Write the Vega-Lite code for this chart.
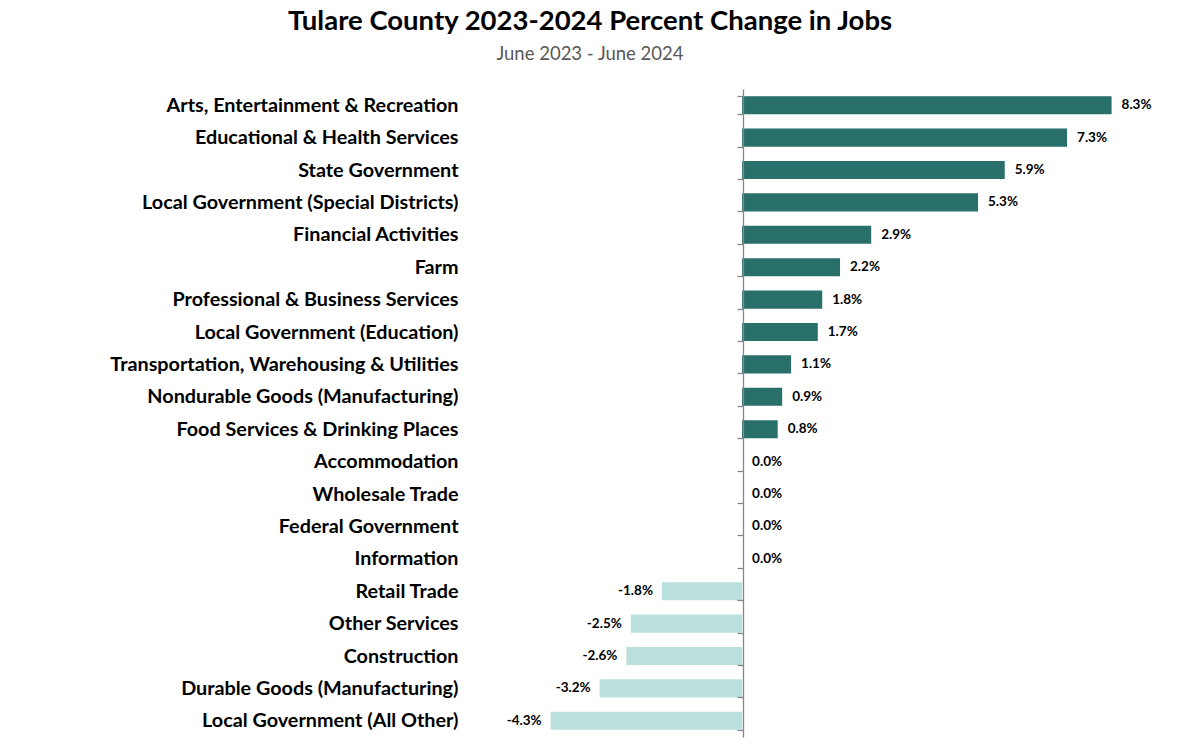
{
  "$schema": "https://vega.github.io/schema/vega-lite/v6.json",
  "width": 690,
  "height": 648,
  "autosize": {"type": "none"},
  "padding": {"left": 475, "top": 89, "right": 19, "bottom": 15},
  "title": {
    "text": "Tulare County 2023-2024 Percent Change in Jobs",
    "subtitle": "June 2023 - June 2024",
    "anchor": "middle",
    "frame": "group",
    "dx": -230,
    "offset": 16,
    "font": "Lato",
    "fontSize": 27.5,
    "fontWeight": "bold",
    "color": "#000000",
    "subtitleFont": "Lato",
    "subtitleFontSize": 18.5,
    "subtitleColor": "#595959",
    "subtitlePadding": 9
  },
  "config": {
    "view": {"stroke": null},
    "locale": {"number": {"decimal": ".", "thousands": ",", "grouping": [3], "currency": ["$", ""], "minus": "-"}}
  },
  "data": {
    "values": [
      {"industry": "Arts, Entertainment & Recreation", "change": 0.083},
      {"industry": "Educational & Health Services", "change": 0.073},
      {"industry": "State Government", "change": 0.059},
      {"industry": "Local Government (Special Districts)", "change": 0.053},
      {"industry": "Financial Activities", "change": 0.029},
      {"industry": "Farm", "change": 0.022},
      {"industry": "Professional & Business Services", "change": 0.018},
      {"industry": "Local Government (Education)", "change": 0.017},
      {"industry": "Transportation, Warehousing & Utilities", "change": 0.011},
      {"industry": "Nondurable Goods (Manufacturing)", "change": 0.009},
      {"industry": "Food Services & Drinking Places", "change": 0.008},
      {"industry": "Accommodation", "change": 0.0},
      {"industry": "Wholesale Trade", "change": 0.0},
      {"industry": "Federal Government", "change": 0.0},
      {"industry": "Information", "change": 0.0},
      {"industry": "Retail Trade", "change": -0.018},
      {"industry": "Other Services", "change": -0.025},
      {"industry": "Construction", "change": -0.026},
      {"industry": "Durable Goods (Manufacturing)", "change": -0.032},
      {"industry": "Local Government (All Other)", "change": -0.043}
    ]
  },
  "encoding": {
    "y": {
      "field": "industry",
      "type": "nominal",
      "sort": null,
      "scale": {"paddingInner": 0.44, "paddingOuter": 0.22},
      "axis": {
        "title": null,
        "offset": -268,
        "zindex": 1,
        "domainColor": "#868686",
        "domainWidth": 1.3,
        "tickColor": "#868686",
        "tickWidth": 1.3,
        "tickSize": 6,
        "tickBand": "extent",
        "labelPadding": 279,
        "labelFont": "Lato",
        "labelFontWeight": "bold",
        "labelFontSize": 19.8,
        "labelColor": "#000000",
        "labelLimit": 0
      }
    },
    "x": {
      "field": "change",
      "type": "quantitative",
      "scale": {"domain": [-0.06, 0.095], "nice": false, "zero": false},
      "axis": null
    }
  },
  "layer": [
    {
      "mark": {"type": "bar"},
      "encoding": {
        "color": {
          "condition": {"test": "datum.change < 0", "value": "#b9e0dc"},
          "value": "#29706a"
        }
      }
    },
    {
      "transform": [{"filter": "datum.change >= 0"}],
      "mark": {"type": "text", "align": "left", "dx": 10, "font": "Lato", "fontWeight": "bold", "fontSize": 13.5, "color": "#000000"},
      "encoding": {"text": {"field": "change", "type": "quantitative", "format": ".1%"}}
    },
    {
      "transform": [{"filter": "datum.change < 0"}],
      "mark": {"type": "text", "align": "right", "dx": -9, "font": "Lato", "fontWeight": "bold", "fontSize": 13.5, "color": "#000000"},
      "encoding": {"text": {"field": "change", "type": "quantitative", "format": ".1%"}}
    }
  ]
}
